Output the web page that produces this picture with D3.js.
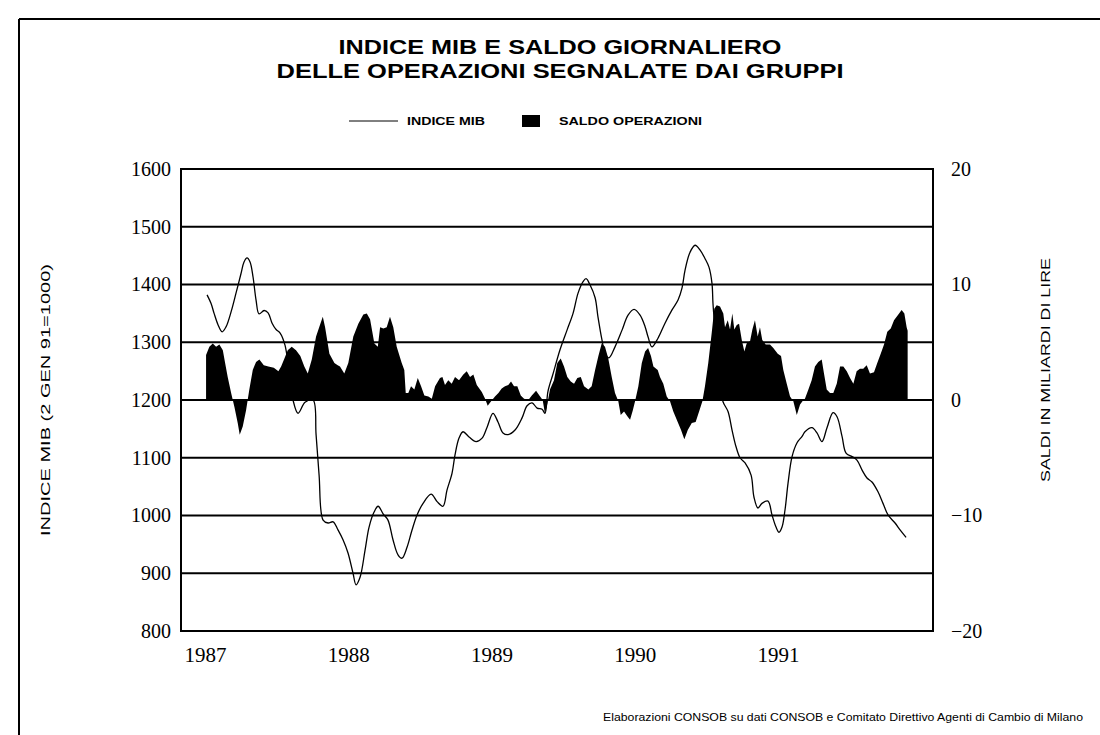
<!DOCTYPE html>
<html><head><meta charset="utf-8">
<script src="https://cdn.jsdelivr.net/npm/d3@7"></script>
<style>body{margin:0;background:#fff}svg{display:block}</style>
</head><body>
<svg id="c" width="1100" height="735"></svg>
<script>
const titleLines = ["INDICE MIB E SALDO GIORNALIERO", "DELLE OPERAZIONI SEGNALATE DAI GRUPPI"];
const legendLabels = ["INDICE MIB", "SALDO OPERAZIONI"];
const leftTitle = "INDICE MIB (2 GEN  91=1000)";
const rightTitle = "SALDI IN MILIARDI DI LIRE";
const sourceNote = "Elaborazioni CONSOB su dati CONSOB e Comitato Direttivo Agenti di Cambio di Milano";
const yearTicks = [1987, 1988, 1989, 1990, 1991];
const leftTicks = [800, 900, 1000, 1100, 1200, 1300, 1400, 1500, 1600];
const rightTicks = [-20, -10, 0, 10, 20];

const mibDates = [1987.014,1987.042,1987.063,1987.091,1987.119,1987.147,1987.182,1987.216,1987.251,1987.272,
1987.293,1987.314,1987.335,1987.356,1987.377,1987.412,1987.440,1987.468,1987.496,1987.524,
1987.558,1987.586,1987.614,1987.649,1987.698,1987.754,1987.775,1987.796,1987.824,1987.859,
1987.894,1987.928,1987.963,1987.998,1988.033,1988.054,1988.082,1988.117,1988.145,1988.180,
1988.208,1988.243,1988.277,1988.312,1988.347,1988.375,1988.410,1988.445,1988.480,1988.522,
1988.578,1988.620,1988.661,1988.689,1988.724,1988.745,1988.773,1988.801,1988.843,1988.892,
1988.934,1988.969,1989.010,1989.045,1989.080,1989.115,1989.164,1989.213,1989.248,1989.283,
1989.318,1989.353,1989.373,1989.394,1989.429,1989.478,1989.527,1989.569,1989.604,1989.639,
1989.660,1989.688,1989.723,1989.743,1989.771,1989.792,1989.820,1989.862,1989.911,1989.953,
1989.995,1990.037,1990.072,1990.093,1990.120,1990.162,1990.211,1990.260,1990.302,1990.330,
1990.351,1990.386,1990.421,1990.455,1990.490,1990.518,1990.539,1990.546,1990.560,1990.574,
1990.595,1990.616,1990.651,1990.679,1990.707,1990.735,1990.770,1990.812,1990.832,1990.860,
1990.888,1990.930,1990.958,1990.986,1991.007,1991.028,1991.049,1991.070,1991.098,1991.133,
1991.168,1991.188,1991.237,1991.272,1991.307,1991.342,1991.384,1991.412,1991.447,1991.475,
1991.517,1991.551,1991.586,1991.621,1991.656,1991.698,1991.733,1991.768,1991.817,1991.852,
1991.894];
const mibValues = [1382,1367,1350,1330,1318,1327,1353,1385,1419,1439,
1446,1439,1413,1373,1349,1355,1351,1333,1322,1316,
1295,1250,1200,1177,1196,1200,1140,1070,992,987,
989,975,958,935,900,880,893,940,980,1006,
1016,1003,992,958,932,926,945,975,1001,1021,
1037,1024,1016,1044,1073,1105,1134,1145,1136,1128,
1134,1153,1177,1162,1143,1140,1148,1169,1190,1195,
1186,1184,1177,1215,1245,1287,1321,1350,1385,1405,
1410,1399,1377,1344,1304,1281,1273,1292,1321,1347,
1357,1347,1327,1309,1292,1307,1333,1356,1373,1394,
1425,1456,1468,1460,1445,1430,1402,1367,1321,1275,
1229,1197,1180,1148,1119,1100,1091,1070,1032,1013,
1021,1025,1001,980,971,980,1010,1056,1102,1126,
1137,1145,1152,1143,1128,1152,1178,1171,1137,1108,
1102,1096,1079,1065,1058,1041,1021,1001,987,975,
962];

const saldoDates = [1987.007,1987.030,1987.054,1987.077,1987.100,1987.124,1987.140,1987.158,1987.182,1987.205,
1987.228,1987.242,1987.263,1987.286,1987.309,1987.333,1987.356,1987.379,1987.410,1987.442,
1987.480,1987.512,1987.531,1987.554,1987.577,1987.605,1987.635,1987.665,1987.693,1987.717,
1987.745,1987.775,1987.805,1987.822,1987.838,1987.868,1987.903,1987.926,1987.942,1987.972,
1988.000,1988.035,1988.070,1988.105,1988.129,1988.152,1988.182,1988.206,1988.222,1988.245,
1988.268,1988.291,1988.314,1988.338,1988.373,1988.391,1988.401,1988.419,1988.438,1988.461,
1988.485,1988.508,1988.531,1988.559,1988.583,1988.606,1988.640,1988.657,1988.675,1988.698,
1988.722,1988.745,1988.773,1988.803,1988.827,1988.850,1988.873,1988.897,1988.932,1988.955,
1988.973,1988.997,1989.024,1989.048,1989.071,1989.094,1989.117,1989.136,1989.157,1989.180,
1989.204,1989.227,1989.257,1989.281,1989.311,1989.334,1989.357,1989.373,1989.390,1989.408,
1989.436,1989.459,1989.483,1989.506,1989.529,1989.553,1989.576,1989.599,1989.623,1989.646,
1989.676,1989.699,1989.723,1989.746,1989.769,1989.792,1989.815,1989.839,1989.862,1989.885,
1989.902,1989.925,1989.948,1989.967,1989.986,1990.002,1990.025,1990.049,1990.072,1990.093,
1990.113,1990.130,1990.160,1990.176,1990.199,1990.223,1990.246,1990.269,1990.293,1990.323,
1990.346,1990.370,1990.398,1990.425,1990.449,1990.472,1990.490,1990.513,1990.537,1990.555,
1990.572,1990.595,1990.618,1990.630,1990.649,1990.665,1990.681,1990.695,1990.712,1990.728,
1990.747,1990.765,1990.781,1990.805,1990.821,1990.839,1990.858,1990.874,1990.890,1990.914,
1990.944,1990.967,1990.998,1991.021,1991.037,1991.061,1991.084,1991.107,1991.131,1991.154,
1991.177,1991.188,1991.212,1991.235,1991.258,1991.281,1991.305,1991.321,1991.340,1991.363,
1991.386,1991.410,1991.433,1991.456,1991.480,1991.503,1991.526,1991.549,1991.572,1991.595,
1991.619,1991.642,1991.670,1991.693,1991.717,1991.740,1991.763,1991.787,1991.810,1991.840,
1991.863,1991.882,1991.898,1991.905];
const saldoValues = [3.9,4.6,4.9,4.6,4.8,4.3,3.2,2.0,0.6,-0.6,
-2.0,-3.0,-2.3,-0.9,0.9,2.6,3.3,3.5,3.0,2.9,
2.8,2.5,2.9,3.6,4.3,4.6,4.3,3.8,2.9,2.3,
3.5,5.5,6.6,7.2,6.3,4.0,3.2,3.0,2.9,2.3,
3.2,5.5,6.6,7.4,7.5,7.0,4.9,4.6,6.3,6.2,
6.3,7.2,6.3,4.6,3.2,2.6,0.6,0.6,1.2,0.9,
1.9,1.2,0.4,0.3,0.1,1.2,1.9,2.0,1.3,1.7,
1.4,2.0,1.7,2.2,2.5,2.0,2.2,1.3,0.7,0.1,
-0.5,-0.1,0.3,0.6,1.0,1.2,1.3,1.6,1.2,1.2,
0.4,0.1,0,0.4,0.8,0.4,0,-1.2,-0.3,0.9,
1.7,3.2,3.6,2.9,2.0,1.6,1.4,1.9,2.0,1.2,
0.9,1.2,2.6,3.8,4.9,4.6,3.6,2.0,0.6,-0.1,
-1.3,-1.0,-1.4,-1.7,-0.9,-0.1,1.2,3.2,4.2,4.5,
3.8,2.9,2.6,2.0,1.4,0.3,-0.1,-1.0,-1.7,-2.6,
-3.4,-2.6,-2.0,-1.9,-1.0,-0.1,1.2,3.2,5.8,7.9,
8.2,8.1,7.5,6.3,6.9,6.1,7.5,6.1,6.5,6.6,
5.2,4.2,4.9,5.1,6.1,6.9,5.5,6.3,5.2,4.8,
4.8,4.5,4.0,3.8,2.6,1.4,0.3,-0.1,-1.3,-0.4,
0,0.1,0.9,1.7,2.9,3.3,3.5,2.3,0.9,0.6,
0.6,1.4,2.9,2.9,2.5,1.9,1.4,2.5,2.7,2.7,
3.0,2.3,2.4,3.2,4.0,4.8,5.9,6.2,6.9,7.4,
7.8,7.5,6.3,6.0];

const mib = mibDates.map((d, i) => ({ t: d, v: mibValues[i] }));
const saldo = saldoDates.map((d, i) => ({ t: d, v: saldoValues[i] }));

const svg = d3.select("#c");
const plot = { left: 181, right: 933, top: 169, bottom: 631 };

const x = d3.scaleLinear().domain([1986.832, 1992.082]).range([plot.left, plot.right]);
const yL = d3.scaleLinear().domain([800, 1600]).range([plot.bottom, plot.top]);
const yR = d3.scaleLinear().domain([-20, 20]).range([plot.bottom, plot.top]);

const sans = "'Liberation Sans', Arial, sans-serif";
const serif = "'Liberation Serif', 'Times New Roman', serif";

// outer frame (top and left edges)
svg.append("line").attr("x1", 19).attr("x2", 1100).attr("y1", 19).attr("y2", 19)
  .attr("stroke", "#000").attr("stroke-width", 2);
svg.append("line").attr("x1", 19).attr("x2", 19).attr("y1", 19).attr("y2", 735)
  .attr("stroke", "#000").attr("stroke-width", 2);

// title
svg.selectAll("text.title").data(titleLines).join("text")
  .attr("class", "title")
  .attr("x", 560).attr("y", (d, i) => 54 + i * 24)
  .attr("text-anchor", "middle")
  .attr("font-family", sans)
  .attr("font-weight", "bold").attr("font-size", 21)
  .attr("textLength", (d, i) => i === 0 ? 443 : 567)
  .attr("lengthAdjust", "spacingAndGlyphs")
  .text(d => d);

// legend
svg.append("line").attr("x1", 349).attr("x2", 398).attr("y1", 121).attr("y2", 121)
  .attr("stroke", "#000").attr("stroke-width", 1);
svg.append("text").attr("x", 407).attr("y", 125)
  .attr("font-family", sans).attr("font-weight", "bold")
  .attr("font-size", 11).attr("textLength", 78).attr("lengthAdjust", "spacingAndGlyphs")
  .text(legendLabels[0]);
svg.append("rect").attr("x", 522).attr("y", 115).attr("width", 18).attr("height", 12).attr("fill", "#000");
svg.append("text").attr("x", 559).attr("y", 125)
  .attr("font-family", sans).attr("font-weight", "bold")
  .attr("font-size", 11).attr("textLength", 143).attr("lengthAdjust", "spacingAndGlyphs")
  .text(legendLabels[1]);

// gridlines
svg.append("g").selectAll("line").data(leftTicks.slice(1, -1)).join("line")
  .attr("x1", plot.left).attr("x2", plot.right)
  .attr("y1", d => yL(d)).attr("y2", d => yL(d))
  .attr("stroke", "#000").attr("stroke-width", 2);

// saldo area
const area = d3.area().x(d => x(d.t)).y0(yR(0)).y1(d => yR(d.v));
svg.append("path").datum(saldo).attr("d", area).attr("fill", "#000");
svg.append("line").attr("x1", plot.left).attr("x2", plot.right)
  .attr("y1", yR(0)).attr("y2", yR(0)).attr("stroke", "#000").attr("stroke-width", 2);

// MIB line
const line = d3.line().x(d => x(d.t)).y(d => yL(d.v)).curve(d3.curveCatmullRom.alpha(0.5));
svg.append("path").datum(mib).attr("d", line).attr("fill", "none")
  .attr("stroke", "#000").attr("stroke-width", 1.3).attr("stroke-linejoin", "round");

// plot border
svg.append("rect").attr("x", plot.left).attr("y", plot.top)
  .attr("width", plot.right - plot.left).attr("height", plot.bottom - plot.top)
  .attr("fill", "none").attr("stroke", "#000").attr("stroke-width", 2);

// left axis
const gL = svg.append("g").attr("transform", `translate(${plot.left},0)`)
  .call(d3.axisLeft(yL).tickValues(leftTicks).tickSize(0).tickPadding(10).tickFormat(d3.format("d")));
gL.select(".domain").remove();
gL.selectAll("text").attr("font-family", serif).attr("font-size", 20).attr("fill", "#000");

// right axis
const gR = svg.append("g").attr("transform", `translate(${plot.right},0)`)
  .call(d3.axisRight(yR).tickValues(rightTicks).tickSize(0).tickPadding(18)
    .tickFormat(d => d < 0 ? "\u2212" + Math.abs(d) : String(d)));
gR.select(".domain").remove();
gR.selectAll("text").attr("font-family", serif).attr("font-size", 20).attr("fill", "#000");

// bottom axis
const gB = svg.append("g").attr("transform", `translate(0,${plot.bottom})`)
  .call(d3.axisBottom(x).tickValues(yearTicks).tickSize(0).tickPadding(16).tickFormat(d3.format("d")));
gB.select(".domain").remove();
gB.selectAll("text").attr("font-family", serif).attr("font-size", 21).attr("fill", "#000");

// axis titles
svg.append("text").attr("transform", "translate(50,400) rotate(-90)")
  .attr("text-anchor", "middle")
  .attr("font-family", sans).attr("font-size", 13.5)
  .attr("textLength", 272).attr("lengthAdjust", "spacingAndGlyphs")
  .text(leftTitle);
svg.append("text").attr("transform", "translate(1050,370) rotate(-90)")
  .attr("text-anchor", "middle")
  .attr("font-family", sans).attr("font-size", 13.5)
  .attr("textLength", 224).attr("lengthAdjust", "spacingAndGlyphs")
  .text(rightTitle);

// source note
svg.append("text").attr("x", 1083).attr("y", 721).attr("text-anchor", "end")
  .attr("font-family", sans).attr("font-size", 11)
  .attr("textLength", 480).attr("lengthAdjust", "spacingAndGlyphs")
  .text(sourceNote);
</script>
</body></html>
